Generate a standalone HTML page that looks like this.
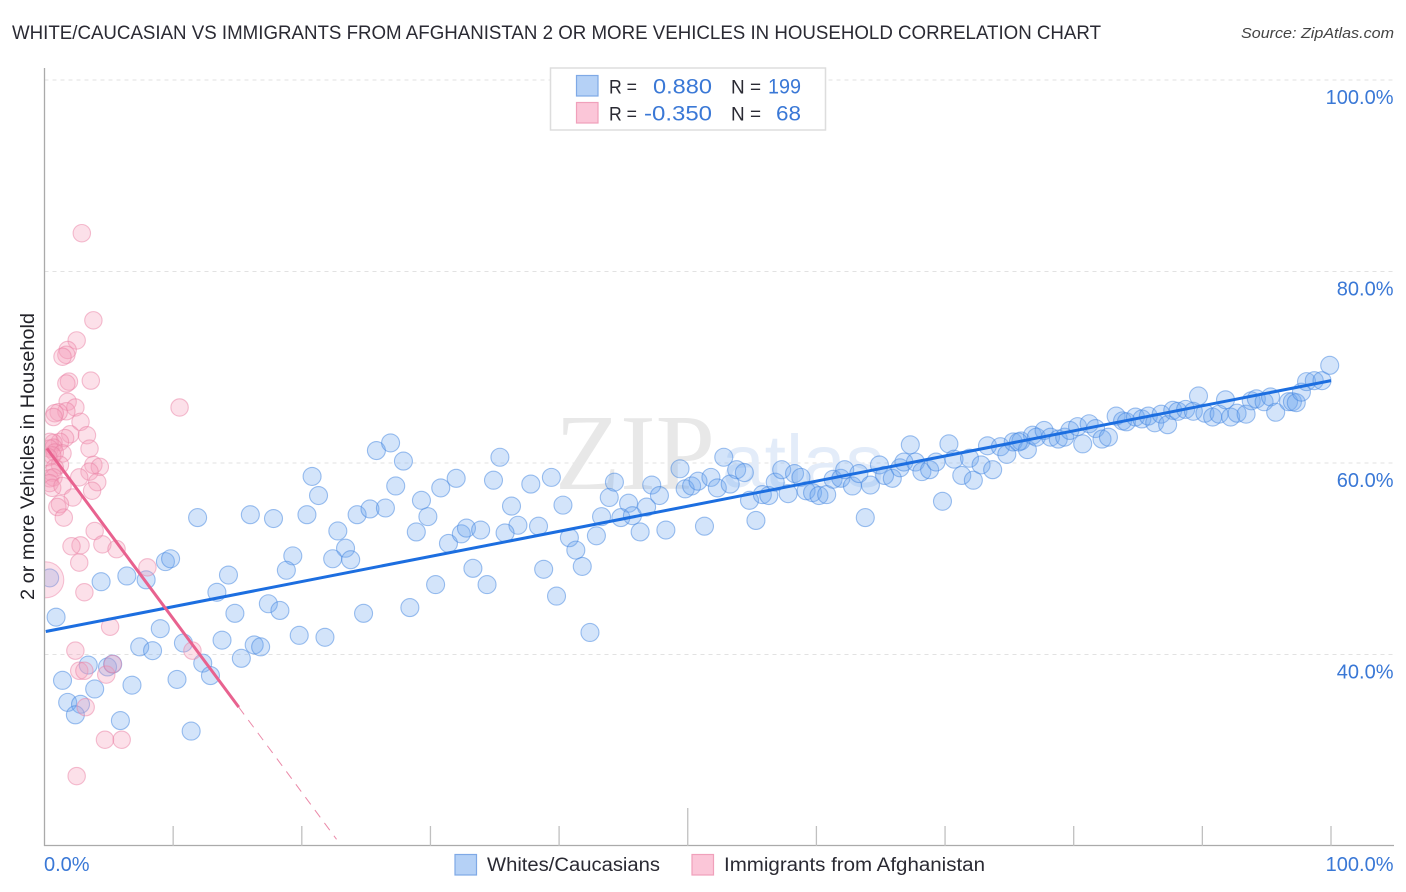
<!DOCTYPE html>
<html lang="en">
<head>
<meta charset="utf-8">
<title>White/Caucasian vs Immigrants from Afghanistan correlation chart</title>
<style>
html,body{margin:0;padding:0;background:#fff;}
svg{display:block;font-family:"Liberation Sans",sans-serif;}
</style>
</head>
<body>
<svg id="chart" xmlns="http://www.w3.org/2000/svg" width="1406" height="892" viewBox="0 0 1406 892">
  <defs>
    <clipPath id="plot-clip"><rect x="45" y="68" width="1349" height="778"/></clipPath>
  </defs>
  <rect x="0" y="0" width="1406" height="892" fill="#ffffff"/>
  <text x="12" y="39" font-size="19" fill="#2a2a33" textLength="1089" lengthAdjust="spacingAndGlyphs">WHITE/CAUCASIAN VS IMMIGRANTS FROM AFGHANISTAN 2 OR MORE VEHICLES IN HOUSEHOLD CORRELATION CHART</text>
  <text x="1241" y="38" font-size="15" font-style="italic" fill="#444444" textLength="153" lengthAdjust="spacingAndGlyphs">Source: ZipAtlas.com</text>
  <g id="grid"></g>
  <g>
    <text x="555" y="489" font-family="'Liberation Serif',serif" font-size="108" fill="#e8e8e8" textLength="160" lengthAdjust="spacingAndGlyphs">ZIP</text>
    <text x="722" y="487" font-size="74" fill="#e3ecf9" textLength="162" lengthAdjust="spacingAndGlyphs">atlas</text>
  </g>
  <g id="points-white" clip-path="url(#plot-clip)"></g>
  <g id="points-afghan" clip-path="url(#plot-clip)"></g>
  <g id="trends"></g>
  <g id="axes"></g>
  <g id="y-labels"></g>
  <g id="x-labels"></g>
  <text transform="translate(34,456.5) rotate(-90)" text-anchor="middle" font-size="19" fill="#222228" textLength="287" lengthAdjust="spacingAndGlyphs">2 or more Vehicles in Household</text>

  <g>
    <rect x="550.5" y="68" width="275" height="62" fill="#ffffff" stroke="#dddddd" stroke-width="1.5"/>
    <rect x="576.5" y="75.5" width="21.5" height="20.5" fill="#b5d1f6" stroke="#7fa9e6" stroke-width="1.2"/>
    <rect x="576.5" y="102.5" width="21.5" height="20.5" fill="#fbc6d8" stroke="#f0a0bb" stroke-width="1.2"/>
    <text x="609" y="93.5" font-size="19.5" fill="#2a2a33" textLength="28" lengthAdjust="spacingAndGlyphs">R =</text>
    <text x="653" y="93.5" font-size="21" fill="#3a78d6" textLength="59" lengthAdjust="spacingAndGlyphs">0.880</text>
    <text x="731" y="93.5" font-size="19.5" fill="#2a2a33" textLength="30" lengthAdjust="spacingAndGlyphs">N =</text>
    <text x="768" y="93.5" font-size="21" fill="#3a78d6" textLength="33" lengthAdjust="spacingAndGlyphs">199</text>
    <text x="609" y="120.5" font-size="19.5" fill="#2a2a33" textLength="28" lengthAdjust="spacingAndGlyphs">R =</text>
    <text x="644" y="120.5" font-size="21" fill="#3a78d6" textLength="68" lengthAdjust="spacingAndGlyphs">-0.350</text>
    <text x="731" y="120.5" font-size="19.5" fill="#2a2a33" textLength="30" lengthAdjust="spacingAndGlyphs">N =</text>
    <text x="776" y="120.5" font-size="21" fill="#3a78d6" textLength="25" lengthAdjust="spacingAndGlyphs">68</text>
  </g>

  <g>
    <g>
      <rect x="455" y="854.5" width="21.5" height="20.5" fill="#b5d1f6" stroke="#7fa9e6" stroke-width="1.2"/>
      <text x="487" y="871" font-size="19" fill="#2a2a33" textLength="173" lengthAdjust="spacingAndGlyphs">Whites/Caucasians</text>
    </g>
    <g>
      <rect x="692" y="854.5" width="21.5" height="20.5" fill="#fbc6d8" stroke="#f0a0bb" stroke-width="1.2"/>
      <text x="724" y="871" font-size="19" fill="#2a2a33" textLength="261" lengthAdjust="spacingAndGlyphs">Immigrants from Afghanistan</text>
    </g>
  </g>
</svg>
<script>
var xTickValues = [0,10,20,30,40,50,60,70,80,90,100];
var xLabelValues = [0,100];
var yTickValues = [100,80,60,40];

var whiteTrend = [[0.1,42.4],[100,68.6]];
var afghanTrendSolid = [[0.2,61.5],[15.1,34.5]];
var afghanTrendDashed = [[15.1,34.5],[22.7,20.7]];
var afghanLargePoint = [0.1,47.8];

var whitePoints = [
[0.4,48.0],[0.9,43.9],[4.4,47.6],[6.4,48.2],[7.9,47.8],[9.4,49.7],[9.8,50.0],[14.3,48.3],[13.4,46.5],[9.0,42.7],
[7.4,40.8],[8.4,40.4],[10.8,41.2],[13.8,41.5],[14.8,44.3],[17.4,45.3],[18.3,44.6],[19.8,42.0],[21.8,41.8],[16.3,41.0],
[16.8,40.8],[15.3,39.6],[12.3,39.1],[12.9,37.8],[10.3,37.4],[6.8,36.8],[1.4,37.3],[3.4,38.9],[4.9,38.7],[5.3,39.0],
[3.9,36.4],[1.8,35.0],[2.8,34.8],[2.4,33.7],[5.9,33.1],[11.4,32.0],[11.9,54.3],[16.0,54.6],
[20.8,58.6],[21.3,56.6],[20.4,54.6],[17.8,54.2],[22.8,52.9],[23.4,51.1],[22.4,50.0],[23.8,49.9],[19.3,50.3],[18.8,48.8],
[24.3,54.6],[25.3,55.2],[26.5,55.3],[25.8,61.3],[26.9,62.1],[27.9,60.2],[27.3,57.6],[29.3,56.1],[30.8,57.4],[32.0,58.4],
[29.8,54.4],[28.9,52.8],[31.4,51.6],[32.4,52.6],[32.8,53.2],[33.9,53.0],[34.9,58.2],[35.4,60.6],[37.8,57.8],[39.4,58.5],
[36.3,55.5],[36.8,53.5],[35.8,52.7],[38.4,53.4],[40.3,55.6],[43.3,54.4],[43.9,56.4],[44.3,58.0],[45.4,55.8],[44.8,54.3],
[45.7,54.5],[46.8,55.4],[40.8,52.2],[41.3,50.9],[41.8,49.2],[42.9,52.4],[46.3,52.8],[33.3,49.0],[34.4,47.3],[30.4,47.3],
[38.8,48.9],[39.8,46.1],[42.4,42.3],[28.4,44.9],[24.8,44.3],
[47.2,57.7],[47.8,56.6],[48.3,53.0],[51.3,53.4],[49.4,59.4],[49.8,57.3],[50.3,57.6],[50.8,58.1],[51.8,58.5],[52.3,57.4],
[52.8,60.6],[53.8,59.3],[54.4,59.0],[53.3,57.8],[54.8,56.1],[55.3,54.0],[55.8,56.7],[56.3,56.6],[56.8,58.0],[57.3,59.3],
[57.8,56.8],[58.3,58.9],[58.8,58.5],[59.2,57.1],[59.7,56.9],[60.2,56.6],[60.8,56.7],[61.3,58.3],[61.9,58.4],[62.2,59.3],
[62.8,57.6],[63.3,58.9],[64.2,57.7],[63.8,54.3],[64.9,59.8],[65.3,58.7],[65.9,58.4],[66.5,59.5],[66.8,60.1],[67.3,61.9],
[67.7,60.1],[68.2,59.1],[68.8,59.3],[69.3,60.1],[69.8,56.0],[70.3,62.0],[70.7,60.4],[71.3,58.7],[71.9,60.5],[72.2,58.2],
[72.8,59.8],[73.3,61.8],[73.7,59.3],[74.3,61.7],[74.8,60.9],[75.3,62.2],[75.9,62.3],[76.4,61.4],[76.8,62.9],[77.1,62.7],
[75.7,62.2],[77.7,63.4],[78.2,62.7],[78.8,62.5],[79.3,62.7],[79.7,63.4],[80.3,63.8],[80.7,62.0],[81.2,64.1],[81.7,63.6],
[82.2,62.5],[82.7,62.7],[83.3,64.9],[83.8,64.4],[84.1,64.3],[84.8,64.8],[85.3,64.6],[85.8,64.9],[86.3,64.2],[86.8,65.1],
[87.3,64.0],[87.7,65.5],[88.1,65.4],[88.7,65.6],[89.3,65.4],[89.7,67.0],[90.2,65.2],[90.8,64.8],[91.3,65.1],[91.8,66.6],
[92.2,64.8],[92.7,65.2],[93.4,65.1],[93.8,66.5],[94.2,66.7],[94.8,66.4],[95.3,66.9],[95.7,65.3],[96.7,66.4],[97.0,66.4],
[97.3,66.3],[97.7,67.4],[98.1,68.5],[98.7,68.6],[99.3,68.6],[99.9,70.2]
];

var afghanPoints = [
[3.8,74.9],[2.5,72.8],[1.8,71.8],[1.7,71.3],[1.4,71.1],[3.6,68.6],[1.9,68.5],[1.7,68.3],[1.8,66.4],[2.4,65.8],
[10.5,65.8],[1.7,65.4],[1.1,65.3],[0.8,65.2],[0.7,64.8],[2.8,64.3],[2.0,63.0],[3.3,62.9],[1.6,62.6],[1.2,62.2],
[0.7,62.1],[0.4,62.2],[3.5,61.5],[0.7,61.6],[0.4,61.5],[0.8,61.1],[1.4,61.0],[0.6,60.8],[0.3,60.6],[3.8,59.8],
[4.3,59.6],[3.5,59.1],[1.2,59.8],[0.8,59.5],[0.6,59.0],[0.4,58.4],[0.7,58.5],[0.4,57.9],[0.6,57.4],[1.4,57.6],
[2.7,58.5],[4.1,58.0],[3.7,57.1],[2.2,56.4],[1.2,55.7],[1.0,55.4],[1.5,54.3],[3.9,52.9],[4.5,51.5],[2.8,51.4],
[2.1,51.3],[5.6,51.0],[2.7,49.6],[8.0,49.1],[3.1,46.5],[5.1,42.9],[2.4,40.4],[11.5,40.4],[2.7,38.3],[3.1,38.3],
[4.8,37.9],[5.3,39.0],[3.2,34.5],[4.7,31.1],[6.0,31.1],[2.5,27.3],[2.9,84.0]
];

var svgNS = 'http://www.w3.org/2000/svg';
function xScale(v){ return 44.5 + v * 12.865; }
function yScale(v){ return 80 + (100 - v) * 9.575; }
function make(tag, parent, props){
  var el = document.createElementNS(svgNS, tag);
  for (var k in props){ el.setAttribute(k, props[k]); }
  document.getElementById(parent).appendChild(el);
  return el;
}

yTickValues.forEach(function(v){
  var line = make('line','grid',{x1:44.5,x2:1394,y1:yScale(v),y2:yScale(v),stroke:'#e2e2e2','stroke-width':1,'stroke-dasharray':'4 4'});
  
  
  var lab = make('text','y-labels',{x:1393.5,y:yScale(v)+24,'text-anchor':'end','font-size':20,fill:'#3a78d6'});
  
  
  lab.textContent = v.toFixed(1) + '%';
});

var yAxis = make('line','axes',{x1:44.5,x2:44.5,y1:68,y2:846,stroke:'#aaaaaa','stroke-width':1.3});


var xAxis = make('line','axes',{x1:44,x2:1394,y1:845.5,y2:845.5,stroke:'#aaaaaa','stroke-width':1.3});



xTickValues.forEach(function(v){
  if (v === 0) return;
  var tick = make('line','axes',{x1:xScale(v),x2:xScale(v),y1:v === 50 ? 808 : 826,y2:846,stroke:'#c0c0c0','stroke-width':1.3});
  
  
});

xLabelValues.forEach(function(v){
  var lab = make('text','x-labels',{x:v === 0 ? 44 : 1393.5,y:871,'text-anchor':v === 0 ? 'start' : 'end','font-size':20,fill:'#3a78d6'});
  
  
  lab.textContent = v.toFixed(1) + '%';
});

whitePoints.forEach(function(p){
  var c = make('circle','points-white',{cx:xScale(p[0]),cy:yScale(p[1]),r:9,fill:'#6ea6ee','fill-opacity':0.3,stroke:'#3f83e0','stroke-opacity':0.5,'stroke-width':1.1});
  
  
});

afghanPoints.forEach(function(p){
  var c = make('circle','points-afghan',{cx:xScale(p[0]),cy:yScale(p[1]),r:8.7,fill:'#f6a0bc','fill-opacity':0.32,stroke:'#ea7fa3','stroke-opacity':0.5,'stroke-width':1.1});
  
  
});

var big = make('circle','points-afghan',{cx:xScale(afghanLargePoint[0]),cy:yScale(afghanLargePoint[1]),r:18,fill:'#f6a0bc','fill-opacity':0.3,stroke:'#ea7fa3','stroke-opacity':0.45,'stroke-width':1.1});



var tw = make('line','trends',{x1:xScale(whiteTrend[0][0]),y1:yScale(whiteTrend[0][1]),x2:xScale(whiteTrend[1][0]),y2:yScale(whiteTrend[1][1]),stroke:'#1c6ee0','stroke-width':3});


var ta = make('line','trends',{x1:xScale(afghanTrendSolid[0][0]),y1:yScale(afghanTrendSolid[0][1]),x2:xScale(afghanTrendSolid[1][0]),y2:yScale(afghanTrendSolid[1][1]),stroke:'#e8628f','stroke-width':3});


var td = make('line','trends',{x1:xScale(afghanTrendDashed[0][0]),y1:yScale(afghanTrendDashed[0][1]),x2:xScale(afghanTrendDashed[1][0]),y2:yScale(afghanTrendDashed[1][1]),stroke:'#eb8aa9','stroke-width':1,'stroke-dasharray':'9 7'});


</script>
</body>
</html>
